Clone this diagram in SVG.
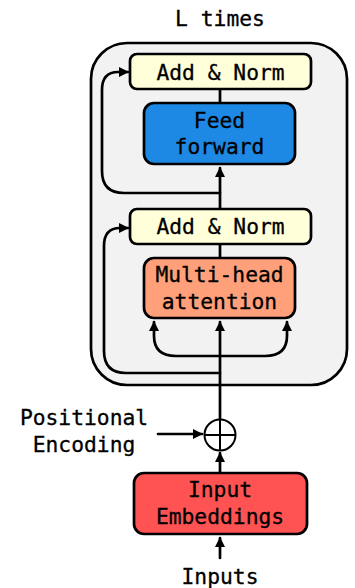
<svg xmlns="http://www.w3.org/2000/svg" width="355" height="588" viewBox="0 0 355 588">
<style>
.t{font-family:"DejaVu Sans Mono","Liberation Mono",monospace;font-size:21.3px;fill:#000;stroke:#000;stroke-width:0.3;text-anchor:middle}
.b{stroke:#000;stroke-width:2.7}
.c{fill:none;stroke:#000;stroke-width:2.7;stroke-linecap:round;stroke-linejoin:round}
</style>
<defs>
<marker id="ah" viewBox="0 0 10 10" refX="9" refY="5" markerWidth="11" markerHeight="10" markerUnits="userSpaceOnUse" orient="auto">
<path d="M0,0 L10,5 L0,10 Z" fill="#000"/>
</marker>
</defs>
<rect width="355" height="588" fill="#fff"/>
<g id="block">
<rect x="91" y="43" width="256" height="342" rx="36" fill="#f2f2f2" class="b"/>
<text class="t" x="220" y="26">L times</text>
</g>
<g id="connectors">
<path class="c" d="M220,419 L220,322" marker-end="url(#ah)"/>
<path class="c" d="M220,356 L176,356 Q154,356 154,336 L154,322" marker-end="url(#ah)"/>
<path class="c" d="M220,356 L265,356 Q287,356 287,336 L287,322" marker-end="url(#ah)"/>
<path class="c" d="M220,373 L126,373 Q104,373 104,351 L104,246 Q104,228 120,228 L128,228" marker-end="url(#ah)"/>
<path class="c" d="M220,258 L220,244"/>
<path class="c" d="M220,209 L220,168" marker-end="url(#ah)"/>
<path class="c" d="M220,193 L124,193 Q102,193 102,171 L102,90 Q102,72 118,72 L128,72" marker-end="url(#ah)"/>
<path class="c" d="M220,103 L220,89"/>
<path class="c" d="M158,434 L202,434" marker-end="url(#ah)"/>
<path class="c" d="M220,472 L220,453" marker-end="url(#ah)"/>
<path class="c" d="M220,558 L220,538" marker-end="url(#ah)"/>
</g>
<g id="addnorm2">
<rect x="130" y="54" width="181" height="35" rx="7" fill="#ffffd9" class="b"/>
<text class="t" x="220.5" y="80">Add &amp; Norm</text>
</g>
<g id="feedforward">
<rect x="144" y="103" width="151" height="61" rx="10" fill="#1e88e5" class="b"/>
<text class="t" x="219.5" y="128">Feed</text>
<text class="t" x="219.5" y="154">forward</text>
</g>
<g id="addnorm1">
<rect x="130" y="209" width="181" height="35" rx="7" fill="#ffffd9" class="b"/>
<text class="t" x="220.5" y="234">Add &amp; Norm</text>
</g>
<g id="attention">
<rect x="144" y="258" width="151" height="60" rx="10" fill="#ffa07a" class="b"/>
<text class="t" x="219.5" y="282">Multi-head</text>
<text class="t" x="219.5" y="309">attention</text>
</g>
<g id="posenc">
<text class="t" x="84" y="425">Positional</text>
<text class="t" x="84" y="452">Encoding</text>
</g>
<g id="sum">
<circle cx="220" cy="435" r="15.5" fill="#fff" stroke="#000" stroke-width="2"/>
<path d="M204.5,435 L235.5,435 M220,419.5 L220,450.5" stroke="#000" stroke-width="2"/>
</g>
<g id="embeddings">
<rect x="134" y="473" width="173" height="61" rx="10" fill="#ff5252" class="b"/>
<text class="t" x="220" y="497">Input</text>
<text class="t" x="220" y="524">Embeddings</text>
</g>
<g id="inputs">
<text class="t" x="220" y="584">Inputs</text>
</g>
</svg>
